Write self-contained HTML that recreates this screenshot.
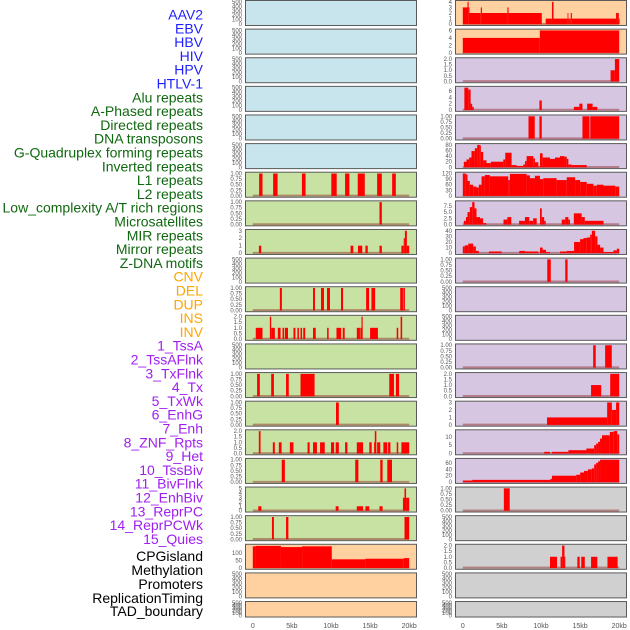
<!DOCTYPE html>
<html><head><meta charset="utf-8"><style>
html,body{margin:0;padding:0;background:#fff;width:630px;height:630px;overflow:hidden}
svg{display:block}
</style></head><body>
<svg id="chart" width="630" height="630" xmlns="http://www.w3.org/2000/svg"></svg>
<script>
// ---- labels ----
const labelNames = ["AAV2","EBV","HBV","HIV","HPV","HTLV-1","Alu repeats","A-Phased repeats","Directed repeats","DNA transposons","G-Quadruplex forming repeats","Inverted repeats","L1 repeats","L2 repeats","Low_complexity A/T rich regions","Microsatellites","MIR repeats","Mirror repeats","Z-DNA motifs","CNV","DEL","DUP","INS","INV","1_TssA","2_TssAFlnk","3_TxFlnk","4_Tx","5_TxWk","6_EnhG","7_Enh","8_ZNF_Rpts","9_Het","10_TssBiv","11_BivFlnk","12_EnhBiv","13_ReprPC","14_ReprPCWk","15_Quies","CPGisland","Methylation","Promoters","ReplicationTiming","TAD_boundary"];
const labelGroups = [6,13,5,15,5];
const groupColors = ["#1f1fff","#106810","#ffa500","#a020f0","#000000"];
const xTicks = [0,5,10,15,20];
const xTickLabels = ["0","5kb","10kb","15kb","20kb"];

// ---- tick sets ----
const T500 = [0,100,200,300,400,500];
const TBIN = [0,0.25,0.5,0.75,1];

// ---- left column segments [startKb, endKb, value] ----
const L6 = [[0.81,1.24,1],[2.6,3.17,1],[6.28,6.75,1],[10.04,10.73,1],[11.8,12.35,1],[13.42,14.32,1],[15.9,16.5,1],[17.82,18.29,1]];
const L7 = [[16.2,16.5,1]];
const L8 = [[0.78,1.08,1],[12.5,12.85,1],[13.45,14.0,1],[14.4,14.7,1],[16.2,16.5,1],[19.0,19.3,1],[19.3,19.45,2],[19.45,19.7,3],[19.7,20.0,1]];
const L10 = [[3.46,3.72,1],[7.7,7.95,1],[8.72,9.1,1],[9.49,9.87,1],[11.28,11.54,1],[14.49,14.87,1],[15.17,15.64,1],[18.85,19.2,1],[19.25,19.45,1]];
const L11 = [[0.38,1.24,1],[2.18,2.35,2],[2.35,2.82,1],[3.2,3.55,1],[3.8,4.0,1],[4.1,4.5,1],[5.2,5.45,1],[5.7,5.9,1],[6.1,6.3,1],[6.45,6.7,1],[7.7,8.05,1],[9.5,9.7,1],[10.7,11.3,1],[11.5,11.75,1],[13.3,13.7,1],[13.75,13.9,1],[13.9,14.05,2],[15.0,16.0,1],[18.4,18.6,1],[18.9,19.1,2]];
const L13 = [[0.55,0.9,1],[2.35,2.7,1],[4.25,4.6,1],[6.1,7.9,1],[17.45,18.05,1],[18.3,18.7,1]];
const L14 = [[10.64,11.0,1]];
const L15 = [[0.77,0.99,2],[2.56,2.82,1],[3.33,3.68,1],[4.74,5.2,1],[7.0,7.27,1],[7.7,8.2,1],[8.6,9.2,1],[10.0,10.4,1],[10.6,11.0,1],[11.8,12.1,1],[13.3,14.1,1],[14.9,15.2,1],[15.5,15.6,1],[15.6,15.8,2],[15.9,16.3,1],[16.7,17.2,1],[17.3,17.6,1],[18.4,18.6,1],[19.0,20.0,1]];
const L16 = [[3.7,4.1,1],[13.1,13.5,1],[16.3,16.6,1],[17.2,17.8,1]];
const L17 = [[0.7,1.1,1],[10.6,10.97,1],[13.3,14.1,1],[14.4,14.9,1],[16.2,16.6,1],[19.2,19.4,2.9],[19.4,19.6,5],[19.6,20.0,2.9]];
const L18 = [[2.45,2.7,1],[4.25,4.55,1],[19.4,20.0,1]];
const L19 = [[0,0.4,145],[0.4,3.6,148],[3.6,6.3,140],[6.3,10.1,145],[10.1,14.4,58],[14.4,19.3,62],[19.3,20.0,66]];

// ---- right column segments ----
const R0 = [[0,0.6,3],[0.6,0.75,4],[0.75,0.8,3],[0.8,2.3,2],[2.3,2.45,3],[2.45,5.7,2],[5.7,5.85,3],[5.85,10.1,2],[10.6,11.4,1],[11.4,11.6,4],[11.6,13.4,1],[13.4,13.5,2],[13.5,13.8,1],[13.8,13.95,2],[13.95,19.6,1],[19.6,19.95,2],[19.95,20.0,1]];
const R1 = [[0,9.85,4],[9.85,20.0,6]];
const R2 = [[18.9,19.45,1],[19.45,20.0,2]];
const R3 = [[0.2,0.7,7],[0.7,1.0,6.4],[1.0,1.2,2],[1.2,1.4,1],[9.8,10.1,3],[14.2,14.9,1],[14.9,15.3,2],[15.9,16.6,2],[16.6,17.2,1]];
const R4 = [[8.4,9.2,1],[9.8,10.1,1],[15.3,16.2,1],[16.3,20.0,1]];
const R5 = [[0.13,0.47,20],[0.47,0.81,28],[0.81,1.11,35],[1.11,1.54,58],[1.54,1.84,68],[1.84,2.18,80],[2.18,2.31,78],[2.31,2.61,55],[2.61,3.03,25],[3.03,3.59,15],[3.59,5.17,20],[5.17,5.43,28],[5.43,6.24,52],[6.24,6.88,8],[6.88,7.73,5],[7.73,7.95,10],[7.95,8.16,22],[8.16,9.02,40],[9.02,9.23,32],[9.23,9.66,18],[9.66,9.87,2],[9.87,10.21,50],[10.21,11.15,35],[11.15,11.79,30],[11.79,12.43,35],[12.43,12.95,40],[12.95,13.29,38],[13.29,13.5,30],[13.5,13.93,10],[13.93,15.85,8]];
const R6 = [[0,0.38,120],[0.38,0.6,115],[0.6,0.9,80],[0.9,1.33,60],[1.33,1.75,50],[1.75,2.05,45],[2.05,2.4,60],[2.4,2.82,105],[2.82,3.46,112],[3.46,5.81,105],[5.81,6.02,85],[6.02,8.16,118],[8.16,8.59,110],[8.59,9.23,95],[9.23,9.87,108],[9.87,10.3,90],[10.3,12.0,95],[12.0,13.29,85],[13.29,14.36,100],[14.36,15.0,85],[15.0,15.85,75],[15.85,16.7,65],[16.7,17.13,55],[17.13,17.99,60],[17.99,19.5,55],[19.5,20.0,50]];
const R7 = [[0.13,0.4,1.5],[0.4,0.6,3],[0.6,0.9,5],[0.9,1.2,7],[1.2,1.5,9],[1.5,1.75,6.5],[1.75,2.2,3],[2.2,2.6,2.5],[2.6,3.0,0.6],[5.2,5.7,2],[5.7,6.2,3],[7.2,7.95,1.5],[7.95,8.5,3],[8.5,9.0,1.5],[9.0,9.45,2.5],[9.87,10.1,6.5],[10.1,10.4,3],[10.4,10.6,1.5],[12.65,13.1,2],[13.1,13.5,3],[13.5,13.7,2],[14.2,15.2,4.5],[15.2,15.6,3],[15.6,18.0,1.5]];
const R8 = [[0,0.26,12],[0.26,0.69,14],[0.69,1.33,17],[1.33,1.67,12],[1.67,2.05,4],[3.33,4.96,3],[7.22,7.95,4],[7.95,9.66,3],[9.87,10.21,10],[10.21,10.64,6],[10.64,11.15,2],[12.43,13.29,3],[13.29,14.23,4],[14.23,15.0,20],[15.0,15.43,25],[15.43,15.85,27],[15.85,16.28,28],[16.28,16.5,33],[16.5,16.92,40],[16.92,17.22,30],[17.22,17.56,15],[17.56,17.99,10],[17.99,19.27,2],[19.27,19.7,5],[19.7,20.0,8]];
const R9 = [[10.8,11.25,1],[13.1,13.4,1]];
const R12 = [[16.67,17.0,1],[18.2,19.05,1]];
const R13 = [[16.4,17.7,1],[18.85,20.0,2]];
const R14 = [[10.77,18.46,1],[18.46,19.06,3],[19.06,19.6,2],[19.6,20.0,3]];
const R15 = [[10.4,11.15,1],[11.4,13.5,1],[13.5,15.8,2],[15.8,16.8,3],[16.8,17.05,5],[17.05,17.3,6],[17.3,17.55,7],[17.55,17.8,9],[17.8,18.8,11],[18.8,19.3,13],[19.3,19.75,13.5],[19.75,20.0,11.5]];
const R16 = [[0,1.2,5],[1.2,11.2,7],[11.2,11.4,10],[11.4,14.5,20],[14.5,15.0,23],[15.0,15.5,30],[15.5,16.0,35],[16.0,16.5,40],[16.5,16.8,43],[16.8,17.05,55],[17.05,17.3,60],[17.3,17.55,65],[17.55,20.0,70]];
const R17 = [[5.25,6.0,1]];
const R19 = [[11.15,12.05,1],[12.5,12.7,1],[12.7,13.0,2],[13.0,13.1,1],[14.65,14.95,1],[15.15,15.6,1],[16.4,17.2,1],[18.5,19.8,1]];

const BLUE="#c8e4ec", GREEN="#c8e2a4", ORANGE="#ffd1a1", LAV="#d6c6e2", GRAY="#d0d0d0";
const leftPanels = [
 [null,T500,500,BLUE],[null,T500,500,BLUE],[null,T500,500,BLUE],[null,T500,500,BLUE],[null,T500,500,BLUE],[null,T500,500,BLUE],
 [L6,TBIN,1,GREEN],[L7,TBIN,1,GREEN],[L8,[0,1,2,3],3,GREEN],[null,T500,500,GREEN],[L10,TBIN,1,GREEN],[L11,[0,0.5,1,1.5,2],2,GREEN],
 [null,T500,500,GREEN],[L13,TBIN,1,GREEN],[L14,TBIN,1,GREEN],[L15,[0,0.5,1,1.5,2],2,GREEN],[L16,TBIN,1,GREEN],[L17,[0,1,2,3,4,5],5,GREEN],
 [L18,TBIN,1,GREEN],[L19,[0,50,100],150,ORANGE],[null,T500,500,ORANGE],[null,T500,500,ORANGE]
];
const rightPanels = [
 [R0,[0,1,2,3,4],4,ORANGE],[R1,[0,2,4,6],6,ORANGE],[R2,[0,0.5,1,1.5,2],2,LAV],[R3,[0,2,4,6],7,LAV],[R4,TBIN,1,LAV],
 [R5,[0,20,40,60,80],80,LAV],[R6,[0,30,60,90,120],120,LAV],[R7,[0,2.5,5,7.5],9,LAV],[R8,[0,10,20,30,40],40,LAV],[R9,TBIN,1,LAV],
 [null,T500,500,LAV],[null,T500,500,LAV],[R12,TBIN,1,LAV],[R13,[0,0.5,1,1.5,2],2,LAV],[R14,[0,1,2,3],3,LAV],[R15,[0,5,10],13.5,LAV],
 [R16,[0,20,40,60],70,LAV],[R17,TBIN,1,GRAY],[null,T500,500,GRAY],[R19,[0,0.5,1,1.5,2],2,GRAY],[null,T500,500,GRAY],[null,T500,500,GRAY]
];

const NS="http://www.w3.org/2000/svg";
const svg=document.getElementById('chart');
function mk(tag,attrs,parent){const e=document.createElementNS(NS,tag);for(const k in attrs)e.setAttribute(k,attrs[k]);(parent||svg).appendChild(e);return e;}
function fmt(v,ticks){const dec=ticks.some(t=>Math.round(t*100)%100!==0 && Math.round(t*100)%50!==0)?2:(ticks.some(t=>t%1!==0)?(ticks[ticks.length-1]<=1?2:1):0);return v.toFixed(dec);}

// labels
let li=0;
labelGroups.forEach((n,g)=>{for(let k=0;k<n;k++){
  const i=li++;
  const y = i<=38 ? 19.5+i*13.8 : [561,575,589,603,616][i-39];
  const t=mk('text',{x:203,y:y,'text-anchor':'end','font-family':'Liberation Sans, sans-serif','font-size':'14',fill:groupColors[g]});
  
  
  t.textContent=labelNames[i];
}});

function drawColumn(panels,left,col){
  const W=171;
  const xs=kb=>left+7.3+kb*7.82;
  panels.forEach((p,i)=>{
    const [segs,ticks,ymax,bg]=p;
    const top=i*28.62+0.5, H=(i===21?15.5:25);
    const g=mk('g',{});
    
    
    mk('rect',{x:left,y:top,width:W,height:H,fill:bg},g);
    const y0=top+H-1.3, yr=H-2.6;
    const ys=v=>y0-v/ymax*yr;
    if(segs){
      mk('line',{x1:xs(0),x2:xs(20),y1:y0-0.3,y2:y0-0.3,stroke:'rgba(140,30,30,0.45)','stroke-width':2},g);
      segs.forEach(s=>{
        const r=mk('rect',{x:xs(s[0]),y:ys(s[2]),width:Math.max(0.8,xs(s[1])-xs(s[0])),height:y0-ys(s[2]),fill:'#ff0000'},g);
        
        
      });
    }
    mk('rect',{x:left,y:top,width:W,height:H,fill:'none',stroke:'#5a5a5a','stroke-width':1},g);
    ticks.forEach(t=>{
      const tt=mk('text',{x:left-3.5,y:ys(t)+2,'text-anchor':'end','font-family':'Liberation Sans, sans-serif','font-size':'6',fill:'#555'},g);
      
      
      tt.textContent=fmt(t,ticks);
    });
  });
  xTicks.forEach((t,k)=>{
    const tt=mk('text',{x:xs(t),y:628,'text-anchor':'middle','font-family':'Liberation Sans, sans-serif','font-size':'7',fill:'#555'});
    
    
    tt.textContent=xTickLabels[k];
  });
}
drawColumn(leftPanels,245.5,'left');
drawColumn(rightPanels,455.5,'right');
</script>
</body></html>
